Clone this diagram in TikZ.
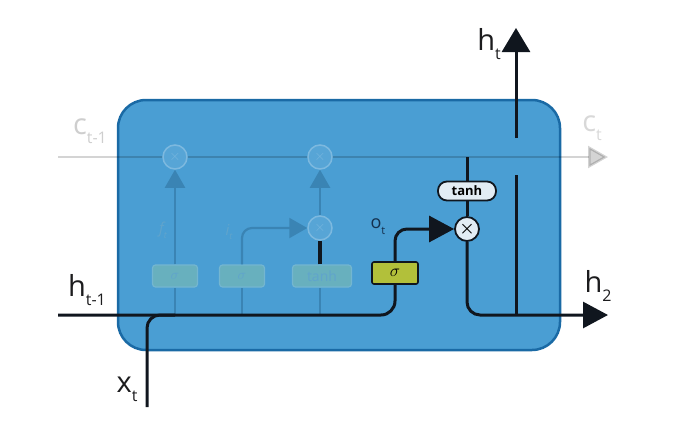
\documentclass[tikz,border=0pt]{standalone}
\usepackage{fontspec}
\setmainfont{Open Sans}
\usetikzlibrary{arrows.meta}

\definecolor{cellblue}{RGB}{74,158,211}
\definecolor{celledge}{RGB}{26,106,165}
\definecolor{wirecol}{RGB}{16,22,30}
\definecolor{gateolive}{RGB}{178,192,58}
\definecolor{paleface}{RGB}{226,236,244}
\definecolor{fadefill}{RGB}{104,176,190}
\definecolor{fadeedge}{RGB}{116,182,208}
\definecolor{fadeline}{RGB}{58,132,180}
\definecolor{fadetext}{RGB}{96,164,204}
\definecolor{ghost}{RGB}{206,206,206}
\definecolor{labeltext}{RGB}{28,28,30}
\definecolor{otext}{RGB}{20,48,78}

\newcommand{\sublbl}[3][16]{#2\raisebox{-0.6ex}{\fontsize{#1}{#1}\selectfont #3}}

\begin{document}
\begin{tikzpicture}[x=1pt,y=-1pt,
  wire/.style={draw=wirecol,line width=3pt},
  fadewire/.style={draw=fadeline,line width=2.2pt},
  bigtip/.style={-{Triangle[length=25pt,width=26pt]}},
  fadetip/.style={-{Triangle[length=18pt,width=20pt]}},
  gatebox/.style={draw=wirecol,line width=1.6pt,fill=gateolive,rounded corners=2pt,minimum width=46pt,minimum height=22pt,inner sep=0pt},
  fadebox/.style={draw=fadeedge,line width=1.2pt,fill=fadefill,rounded corners=3pt,minimum height=22pt,inner sep=0pt,text=fadetext},
  mulnode/.style={circle,draw=wirecol,line width=1.8pt,fill=paleface,minimum size=24pt,inner sep=0pt,font=\fontsize{16}{16}\selectfont\boldmath},
  fademul/.style={circle,draw=cellblue!72!white,line width=1.5pt,fill=cellblue!93!white,minimum size=24pt,inner sep=0pt,text=cellblue!75!white,font=\fontsize{14}{14}\selectfont},
  pill/.style={draw=wirecol,line width=1.8pt,fill=paleface,rounded corners=9pt,minimum width=58pt,minimum height=19pt,inner sep=0pt,font=\fontsize{13}{13}\selectfont\bfseries},
  lbl/.style={text=labeltext,font=\fontsize{29}{29}\selectfont,inner sep=0pt}
]
\useasboundingbox (0,0) rectangle (683,421);

% cell body
\draw[fill=cellblue,draw=celledge,line width=2.5pt,rounded corners=28pt] (118,100) rectangle (560,350);

% end points
\coordinate (cin) at (58,157);
\coordinate (cout) at (608,157);
\coordinate (hin) at (58,315);
\coordinate (hout) at (608,315);
\coordinate (xin) at (147,407);
\coordinate (xjoin) at (175,315);
\coordinate (ctap) at (467,157);
\coordinate (hsplit) at (516,315);
\coordinate (hgaplow) at (516,175);
\coordinate (hgaphigh) at (516,138);
\coordinate (htop) at (516,28);
\coordinate (ftap) at (175,315);
\coordinate (itap) at (242,315);
\coordinate (gtap) at (320,315);

% faded cell state line
\draw[draw=black,opacity=0.17,line width=2.5pt,-{Triangle[length=20pt,width=22pt]}] (cin) -- (cout);

% faded gates
\node[fademul] (mulF) at (175,157) {$\times$};
\node[fademul] (mulC) at (320,157) {$\times$};
\node[fademul] (mulI) at (320,228) {$\times$};
\node[fadebox,minimum width=45pt,font=\fontsize{15}{15}\selectfont] (sigF) at (175,276) {$\sigma$};
\node[fadebox,minimum width=45pt,font=\fontsize{15}{15}\selectfont] (sigI) at (242,276) {$\sigma$};
\node[fadebox,minimum width=59pt,font=\fontsize{14}{14}\selectfont] (tanhI) at (322,276) {tanh};

\draw[fadewire] (ftap) -- (sigF.south);
\draw[fadewire,fadetip] (sigF.north) -- (mulF.south);
\draw[fadewire] (itap) -- (sigI.south);
\draw[fadewire,rounded corners=10pt,fadetip] (sigI.north) |- (mulI.west);
\draw[fadewire] (gtap) -- (tanhI.south -| gtap);
\draw[wire,line width=3.5pt] (tanhI.north -| mulI) -- (mulI.south);
\draw[fadewire,fadetip] (mulI.north) -- (mulC.south);

\node[text=fadetext,font=\fontsize{15}{15}\selectfont\itshape] (lf) at (163,230) {\sublbl[9]{f}{t}};
\node[text=fadetext,font=\fontsize{15}{15}\selectfont\itshape] (li) at (229,232) {\sublbl[9]{i}{t}};

% output gate
\node[gatebox,font=\fontsize{17}{17}\selectfont] (sigO) at (395,273) {$\sigma$};
\node[mulnode] (mulO) at (467,229) {$\times$};
\node[pill] (tanhO) at (467,191) {tanh};

\draw[wire,rounded corners=14pt] (hin) -| (sigO.south);
\draw[wire,rounded corners=13pt] (xin) |- (xjoin);
\draw[wire,rounded corners=12pt,bigtip] (sigO.north) |- (mulO.west);
\draw[wire] (ctap) -- (tanhO.north);
\draw[wire] (tanhO.south) -- (mulO.north);
\draw[wire,rounded corners=13pt,bigtip] (mulO.south) |- (hout);
\draw[wire] (hsplit) -- (hgaplow);
\draw[wire,-{Triangle[length=24pt,width=28pt]}] (hgaphigh) -- (htop);

% labels
\node[lbl] (lhin) at (87,290) {\sublbl{h}{t-1}};
\node[lbl] (lxin) at (127,389) {\sublbl{x}{t}};
\node[lbl] (lht) at (489,44) {\sublbl{h}{t}};
\node[lbl] (lhout) at (598,286) {\sublbl{h}{2}};
\node[lbl,text=ghost] (lcin) at (90,131) {\sublbl{c}{t-1}};
\node[lbl,text=ghost!80!white] (lcout) at (592,128) {\sublbl{c}{t}};
\node[text=otext,font=\fontsize{18}{18}\selectfont,inner sep=0pt] (lo) at (378,227) {\sublbl[11]{o}{t}};
\end{tikzpicture}
\end{document}
